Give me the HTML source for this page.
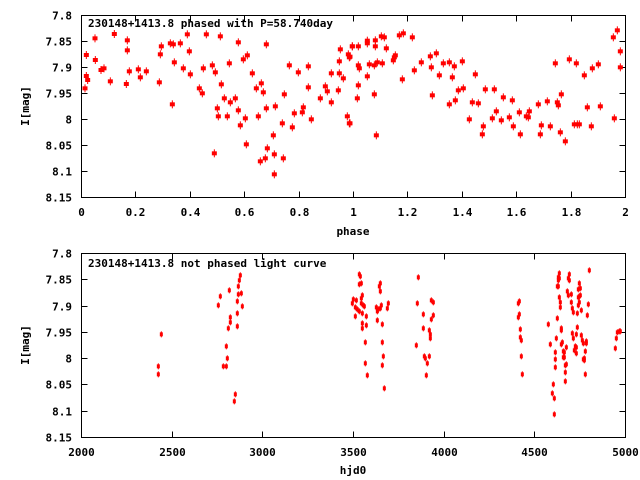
<!DOCTYPE html>
<html><head><meta charset="utf-8"><style>
html,body{margin:0;padding:0;background:#fff}
svg{display:block}
text{font-family:"DejaVu Sans Mono","Liberation Mono",monospace;font-size:11px;fill:#000;font-weight:bold}
</style></head><body>
<svg id="s" width="640" height="480" xmlns="http://www.w3.org/2000/svg">
<rect x="0" y="0" width="640" height="480" fill="#fff"/>
<g id="axes" stroke="#000" stroke-width="1" fill="none"></g>
<g id="lab"></g>
<g id="pts" fill="#f00" stroke="#f00"></g>
<text x="88" y="27">230148+1413.8 phased with P=58.740day</text>
<text x="88" y="267">230148+1413.8 not phased light curve</text>
<text x="353" y="235" text-anchor="middle">phase</text>
<text x="353" y="474" text-anchor="middle">hjd0</text>
<text transform="translate(29,106) rotate(-90)" text-anchor="middle">I[mag]</text>
<text transform="translate(29,345) rotate(-90)" text-anchor="middle">I[mag]</text>
</svg>
<script>
var NS="http://www.w3.org/2000/svg";
function el(t,a,p){var e=document.createElementNS(NS,t);for(var k in a)e.setAttribute(k,a[k]);document.getElementById(p).appendChild(e);return e;}
function txt(x,y,s,anc){var e=el('text',{x:x,y:y,'text-anchor':anc},'lab');e.textContent=s;}
var yl=["7.8","7.85","7.9","7.95","8","8.05","8.1","8.15"];
function frame(top,bot,xl){
 el('rect',{x:81.5,y:top+.5,width:544,height:bot-top},'axes');
 for(var i=0;i<8;i++){var y=Math.round(top+(bot-top)*i/7)+.5;
  el('path',{d:'M81.5 '+y+'h6M625.5 '+y+'h-6'},'axes');txt(72,y+4,yl[i],'end');}
 var n=xl.length-1;
 for(var i=0;i<=n;i++){var x=Math.round(81+544*i/n)+.5;
  el('path',{d:'M'+x+' '+(top+.5)+'v6M'+x+' '+(bot+.5)+'v-6'},'axes');txt(x,bot+19,xl[i],'middle');}
}
frame(15,197,["0","0.2","0.4","0.6","0.8","1","1.2","1.4","1.6","1.8","2"]);
frame(253,437,["2000","2500","3000","3500","4000","4500","5000"]);
function big(x,y){el('rect',{x:x-2.5,y:y-2,width:5,height:4,stroke:'none'},'pts');el('rect',{x:x-0.5,y:y-4,width:1,height:8,stroke:'none'},'pts');}
function sm(x,y){el('rect',{x:x-1.5,y:y-2,width:3,height:4,stroke:'none'},'pts');el('rect',{x:x-0.5,y:y-3,width:1,height:6,stroke:'none'},'pts');}
var z1=[30,235,34,135,34,198,38,210,60,85,61,150,78,180,87,175,106,214,118,72,154,222,157,91,157,121,163,184,190,178,196,202,214,184,253,217,256,133,259,109,286,100,292,283,295,103,298,157,316,100,325,175,337,73,343,124,346,193,373,235,382,250,385,175,394,73,412,166,418,430,421,187,427,295,430,319,436,79,439,223,448,265,457,319,463,160,466,277,481,265,490,97,490,301,496,346,505,148,511,325,514,403,517,136,532,190,544,235,550,319,556,454,559,220,565,247,571,445,574,295,574,103,577,415,595,376,598,433,598,493,601,289,622,340,625,445,628,253,643,166,652,352,658,310,670,187,682,307,685,292,700,169,700,232,709,328,736,265,751,229,757,244,769,277,769,190,790,241,793,190,793,154,796,118,805,205,817,319,820,133,823,142,823,340,832,109];
for(var i=0;i<z1.length;i+=2)big(75+z1[i]/3,10+z1[i+1]/3);
var z2=[0,140,0,340,7,109,25,109,25,166,25,226,22,265,28,175,52,92,52,100,52,199,58,163,73,253,73,166,76,91,76,109,79,376,82,157,94,79,97,160,103,82,109,115,130,151,133,142,136,136,148,76,157,208,160,70,187,82,193,181,214,157,241,139,244,172,247,256,259,130,268,196,280,160,298,283,298,157,307,202,313,169,316,271,325,241,337,154,340,235,358,328,367,277,376,193,385,280,397,373,400,349,406,238,427,325,433,238,439,304,454,331,460,262,478,322,487,271,490,349,508,307,511,373,529,319,535,322,538,304,565,283,571,373,574,346,592,274,601,349,616,160,622,277,625,286,631,367,634,253,646,394,658,148,673,343,679,160,682,343,688,343,703,196,712,292,724,349,727,175,745,163,751,289,790,82,793,325,802,61,811,124,811,172];
for(var i=0;i<z2.length;i+=2)big(350+z2[i]/3,10+z2[i+1]/3);
var z3=[64,238,55,334,55,358,235,151,241,124,268,106,301,61,298,76,295,94,304,115,295,118,292,139,307,154,271,187,271,202,265,220,292,175,292,214,259,274,262,310,250,334,259,334,286,418,283,439,658,58,661,64,658,88,664,85,667,121,640,133,637,145,649,136,664,130,664,145,646,157,652,163,670,151,673,154,658,169,667,175,646,184,679,184,667,205,667,220,679,211,676,262,676,325,682,361,721,85,718,94,721,109,709,157,715,163,712,169,724,151,721,160,745,145,742,160,712,196,727,208,727,262,730,304,727,331,733,400,835,67,832,145,850,178,850,220,829,271,874,136,880,142,874,193,880,181,868,226,871,238,871,250,853,304,856,310,868,304,862,325,859,361];
for(var i=0;i<z3.length;i+=2)sm(140+z3[i]/3,255+z3[i+1]/3);
var z4=[298,139,295,145,298,178,295,187,301,223,301,247,304,256,304,304,307,358,418,55,415,67,418,70,415,76,412,94,415,94,418,127,421,142,421,157,412,190,385,208,424,220,424,226,409,250,391,268,427,262,424,268,439,277,406,292,430,289,433,292,430,307,433,307,406,313,436,331,439,328,406,337,436,352,436,379,400,388,397,415,403,430,403,478,448,58,445,70,448,76,442,109,445,121,454,118,454,142,457,160,460,172,472,175,472,217,457,235,469,238,460,250,466,274,469,277,463,286,469,295,478,85,475,103,481,100,478,124,481,121,475,127,478,142,475,151,484,166,484,241,487,256,490,265,499,259,499,265,496,289,490,313,493,310,493,316,496,358,508,46,505,148,502,181,586,280,589,250,592,232,598,229,601,229];
for(var i=0;i<z4.length;i+=2)sm(420+z4[i]/3,255+z4[i+1]/3);
</script>
</body></html>
